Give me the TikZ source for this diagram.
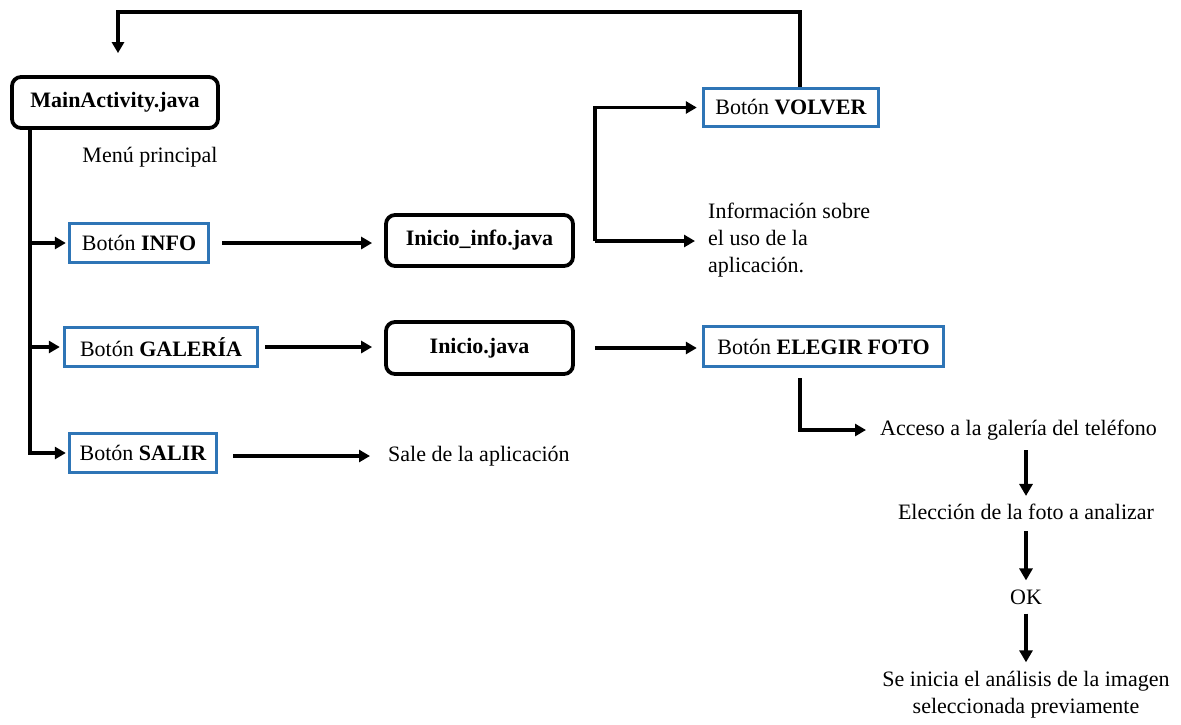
\documentclass[tikz,border=0pt]{standalone}
\usepackage{fontspec}
\setmainfont{Liberation Serif}
\usetikzlibrary{arrows.meta,calc}
\definecolor{btnblue}{RGB}{46,117,182}
\begin{document}
\begin{tikzpicture}[x=1pt,y=-1pt,
  every node/.style={font=\fontsize{22}{27}\selectfont},
  codebox/.style={draw=black, line width=3.8pt, rounded corners=9pt, inner sep=0pt, font=\fontsize{22}{27}\selectfont\bfseries},
  btnbox/.style={draw=btnblue, line width=3.4pt, inner sep=0pt},
  plain/.style={inner sep=0pt},
  arr/.style={line width=3.4pt, -{Triangle[length=11pt,width=12pt]}},
  downarr/.style={line width=4pt, -{Triangle[length=12pt,width=13pt]}}]
\useasboundingbox (0,0) rectangle (1181,724);

% Java activities
\node[codebox, minimum width=206pt, minimum height=51pt] (main) at (115,102.5) {MainActivity.java};
\node[codebox, minimum width=187pt, minimum height=51pt] (infoact) at (479.5,240.5) {Inicio\_info.java};
\node[codebox, minimum width=187pt, minimum height=52pt] (inicio) at (479.5,348) {Inicio.java};

% Buttons
\node[btnbox, minimum width=139pt, minimum height=39pt] (binfo) at (139,243) {Botón \textbf{INFO}};
\node[btnbox, minimum width=193pt, minimum height=39pt] (bgal) at (161,347) {Botón \textbf{GALERÍA}};
\node[btnbox, minimum width=147pt, minimum height=39pt] (bsalir) at (143,453) {Botón \textbf{SALIR}};
\node[btnbox, minimum width=175pt, minimum height=38pt] (bvolver) at (791,107.5) {Botón \textbf{VOLVER}};
\node[btnbox, minimum width=240pt, minimum height=40pt] (belegir) at (823.5,346.5) {Botón \textbf{ELEGIR FOTO}};

% Plain texts
\node[plain] (menu) at (150,157) {Menú principal};
\node[plain, anchor=west] (sale) at (388,456) {Sale de la aplicación};
\node[plain, anchor=west, align=left] (infotxt) at (708,240) {Información sobre\\el uso de la\\aplicación.};
\node[plain, anchor=west] (acceso) at (880,430) {Acceso a la galería del teléfono};
\node[plain] (eleccion) at (1026,512) {Elección de la foto a analizar};
\node[plain] (ok) at (1026,597) {OK};
\node[plain, align=center] (analisis) at (1026,695) {Se inicia el análisis de la imagen\\seleccionada previamente};

% Helper points
\coordinate (trunk) at (30,130);
\coordinate (ret) at (118,12);
\coordinate (fork) at (595,241);

% Main menu branches
\draw[arr, shorten >=2pt] (trunk) |- (binfo.west);
\draw[arr, shorten >=3pt] (trunk) |- (bgal.west);
\draw[arr, shorten >=2pt] (trunk) |- (bsalir.west);

% Return from VOLVER to the main menu
\draw[arr, shorten >=22pt] ([xshift=9pt]bvolver.north) |- (ret) -- (ret |- main.north);

% Button actions
\draw[arr, shorten <=12pt, shorten >=12pt] (binfo.east) -- (binfo.east -| infoact.west);
\draw[arr, shorten <=6pt, shorten >=12pt] (bgal.east) -- (bgal.east -| inicio.west);
\draw[arr, shorten <=15pt, shorten >=18pt] (bsalir.east |- sale.west) -- (sale.west);

% Inicio_info choices
\draw[arr, shorten >=5pt] (fork) |- (bvolver.west);
\draw[arr, shorten >=13pt] (fork) -- (fork -| infotxt.west);

% Gallery flow
\draw[arr, shorten <=20pt, shorten >=5pt] (inicio.east) -- (inicio.east -| belegir.west);
\draw[arr, shorten <=10pt, shorten >=14pt] ([xshift=-23.5pt]belegir.south) |- (acceso.west);
\draw[downarr, shorten <=10pt, shorten >=8pt] (ok |- acceso.south) -- (eleccion.north);
\draw[downarr, shorten <=11pt, shorten >=9pt] (eleccion.south) -- (ok.north);
\draw[downarr, shorten <=9pt, shorten >=9pt] (ok.south) -- (analisis.north);
\end{tikzpicture}
\end{document}
